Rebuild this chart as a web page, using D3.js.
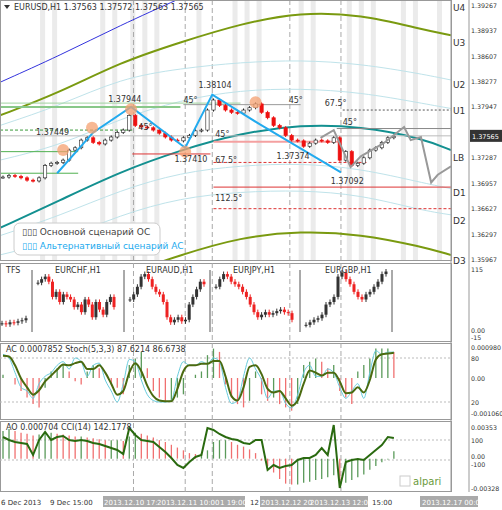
<!DOCTYPE html>
<html><head><meta charset="utf-8">
<script src="https://cdn.jsdelivr.net/npm/d3@7"></script>
<style>body{margin:0;background:#fff}text{font-family:"DejaVu Sans",sans-serif;font-size:8px;fill:#333}</style>
</head><body><svg id="c" width="502" height="510"></svg>
<script>
// ---- data ----
const closes=[1.3703,1.3705,1.3704,1.3702,1.3699,1.3698,1.3702,1.3718,1.3721,1.3722,1.3725,1.3738,1.3741,1.3751,1.3754,1.3748,1.3746,1.3751,1.3755,1.3761,1.3764,1.3783,1.3770,1.3768,1.3767,1.3764,1.3760,1.3755,1.3751,1.3750,1.3754,1.3757,1.3763,1.3764,1.3790,1.3803,1.3796,1.3790,1.3787,1.3786,1.3790,1.3793,1.3798,1.3787,1.3780,1.3770,1.3767,1.3757,1.3751,1.3750,1.3743,1.3747,1.3751,1.3750,1.3748,1.3754,1.3725,1.3736,1.3718,1.3721,1.3728,1.3738,1.3741,1.3748,1.3754,1.3756];
const priceTicks=[1.39267,1.38937,1.38607,1.38277,1.37947,1.37287,1.36957,1.36627,1.36297,1.35967];
const levelNames=["U4","U3","U2","U1","LB","D1","D2","D3"];
const levelPrices=[1.3922,1.3877,1.3822,1.3789,1.3728,1.3682,1.3646,1.3594];
const knotBars=[0,10,20,30,40,50,60,70,75];
const oliveTop=[1.3783,1.3813,1.3852,1.3878,1.3902,1.3917,1.3914,1.3895,1.3887];
const blueLine=[1.3826,1.3861,1.3900,1.3935];
const cyan1=[1.3770,1.3796,1.3831,1.3844,1.3852,1.3855,1.3850,1.3837,1.3829];
const cyan2=[1.3725,1.3744,1.3779,1.3803,1.3816,1.3818,1.3813,1.3799,1.3792];
const cyan3=[1.3627,1.3653,1.3686,1.3709,1.3718,1.3721,1.3714,1.3696,1.3688];
const cyan4=[1.3602,1.3621,1.3654,1.3676,1.3684,1.3686,1.3680,1.3660,1.3654];
const tealLB=[1.3637,1.3673,1.3710,1.3738,1.3760,1.3771,1.3769,1.3754,1.3738];
const oliveBot=[1.3504,1.3530,1.3575,1.3602,1.3625,1.3633,1.3629,1.3613,1.3602];
const zigBars=[9.5,15.5,21.8,30.8,35.3,43.3,56.7];
const zigPrices=[1.3708,1.3761,1.3794,1.3741,1.3810,1.3771,1.3709];
const scenBars=[53.3,55.5,58.3,60,63.8,67.2,68.3,70,71.7,72.8,75];
const scenPrices=[1.3754,1.3764,1.3716,1.3730,1.3747,1.3768,1.3751,1.3755,1.3696,1.3706,1.3717];
const pivotBars=[10.5,15.3,21.8,30.8,42.5];
const pivotPrices=[1.3738,1.3767,1.3791,1.3736,1.3800];
const pivotLabels=[["1.37449",6,1.3757],["1.37944",18,1.3800],["1.38104",33,1.3818],["1.37410",29,1.3722],["1.37374",46,1.3727],["1.37092",55,1.3694]];
const stochK=[85,80,60,40,35,25,45,55,60,70,75,65,80,75,55,70,73,50,35,20,45,78,75,50,30,22,20,20,22,55,75,70,70,75,72,80,75,40,18,22,55,80,65,50,25,35,35,18,12,30,60,70,55,55,65,60,40,25,35,45,25,60,90,85,88,88];
const stochD=[83,82,70,52,40,30,36,48,56,64,71,70,73,75,65,65,70,60,45,30,35,60,73,62,42,28,22,21,21,38,62,70,70,72,72,76,76,55,28,22,40,68,70,58,38,33,35,25,15,22,45,63,60,56,60,60,48,32,33,40,33,50,78,85,86,87];
const acVals=[1,0,-2,-4,-6,-8,-9,-3,2,3,4,2,-1,-2,2,4,3,0,-2,-3,-5,4,6,8,3,-4,-6,-7,-7,-6,-5,0,1,2,7,9,8,-2,-6,-8,-9,-7,2,-5,-7,-6,-8,-9,-10,-8,4,5,6,5,3,4,-4,-6,-8,2,4,6,9,9,9,8];
const aoVals=[30,32,30,28,27,25,26,27,28,27,26,25,24,24,23,22,21,20,20,20,19,24,28,27,25,23,20,18,15,12,9,6,5,6,9,18,20,20,18,15,13,10,6,-2,-8,-15,-22,-27,-28,-28,-26,-25,-23,-22,-20,-18,-28,-26,-23,-20,-17,-12,-8,-4,-1,8];
const cciVals=[115,100,90,85,80,25,100,140,100,115,120,100,95,100,95,85,80,70,60,50,30,160,125,100,95,90,65,40,10,-25,-40,-10,15,25,160,150,130,115,105,100,85,80,100,100,-50,-25,-40,-30,-25,0,10,10,25,60,25,175,-140,-10,0,5,0,25,50,75,115,110];
const tfsSegs=[{name:"",bars:[0,13],v:[8,6,10,9,12,14,18]},{name:"EURCHF,H1",bars:[18,57],v:[88,95,100,90,60,70,50,65,60,55,40,45,30,55,45,20,50,35,25,50,60,40]},{name:"EURAUD,H1",bars:[64,102],v:[55,65,80,100,105,95,80,70,65,50,20,10,15,20,12,15,45,60,75,90,85]},{name:"EURJPY,H1",bars:[107,146],v:[80,95,105,100,90,85,80,70,60,45,30,20,25,30,25,28,32,35,30,28,15]},{name:"EURGBP,H1",bars:[152,193],v:[5,10,15,18,25,45,50,60,100,108,95,85,70,60,55,65,70,80,90,105,110]}];
const stripes=[7,9,17,19,22,24,26,33,39,41,43,50,52,58,60,62,67,69,73];
const vlines=[22.2,30.8,35.3,48.2,56.7];
const dateBoxes=[[103,155],[155,245],[260,368],[420,478]];
const dates=[["6 Dec 2013",1,0],["9 Dec 15:00",50,0],["2013.12.10 17:",104,1],["2013.12.11 10:00",157,1],["1 19:00",220,1],["12",250,0],["2013.12.12 20",261,1],["2013.12.13 12:00",310,1],["15:00",372,0],["2013.12.17 00:00",422,1]];

// ---- drawing ----
const svg=d3.select("#c");
const W=451;
const x=d3.scaleLinear().domain([0,75]).range([0,W]);
const y=d3.scaleLinear().domain([1.35967,1.39267]).range([259,4.7]);
svg.append("rect").attr("x",0).attr("y",0).attr("width",502).attr("height",510).attr("fill","#fff");
const main=svg.append("g");
main.append("clipPath").attr("id","mc").append("rect").attr("width",W).attr("height",260);
const g=main.append("g").attr("clip-path","url(#mc)");
stripes.forEach(s=>g.append("rect").attr("x",x(s)-2).attr("y",0).attr("width",x(1)-1).attr("height",260).attr("fill","#ebebeb"));
vlines.forEach(v=>g.append("line").attr("x1",x(v)).attr("x2",x(v)).attr("y1",0).attr("y2",260).attr("stroke","#aaa").attr("stroke-dasharray","5,3"));
const ln=(bars)=>d3.line().x((d,i)=>x(bars[i])).y(d=>y(d)).curve(d3.curveBasis);
[[cyan1,"#bfe3ea",1],[cyan2,"#bfe3ea",1],[cyan3,"#bfe3ea",1],[cyan4,"#bfe3ea",1],[oliveTop,"#7a9a10",2],[oliveBot,"#7a9a10",2],[tealLB,"#139090",2]].forEach(([d,c,w])=>g.append("path").attr("d",ln(knotBars)(d)).attr("fill","none").attr("stroke",c).attr("stroke-width",w));
g.append("path").attr("d",ln(knotBars)(blueLine)).attr("fill","none").attr("stroke","#3333dd");
const hl=(b0,b1,p,c,dash,w)=>g.append("line").attr("x1",x(b0)).attr("x2",x(b1)).attr("y1",y(p)).attr("y2",y(p)).attr("stroke",c).attr("stroke-width",w||1).attr("stroke-dasharray",dash||null);
hl(0,30,1.3794,"#88c888",null,2);hl(0,40,1.3799,"#9fd49f",null,1);
hl(0,13,1.3736,"#50b050");hl(0,13,1.3708,"#50b050");hl(0,22,1.3764,"#3a9a3a","3,2");
hl(30.5,50,1.3797,"#999");hl(22,35,1.3733,"#dd3333");hl(35.5,56.5,1.3749,"#f4a0a0",null,2);
hl(35.5,61,1.3722,"#dd3333","3,2");hl(35.5,75,1.3690,"#dd3333");hl(35.5,75,1.3662,"#dd3333","3,2");
hl(57,75,1.3790,"#555","2,2");hl(56,75,1.3766,"#888");hl(0,75,1.37565,"#bbb");
const cw=x(1)*0.55;
closes.forEach((c,i)=>{const o=i?closes[i-1]:c;const hi=Math.max(o,c)+0.0002,lo=Math.min(o,c)-0.0002;const col=c>=o?"#222":"#ee1111";
g.append("line").attr("x1",x(i+0.5)).attr("x2",x(i+0.5)).attr("y1",y(hi)).attr("y2",y(lo)).attr("stroke",col);
g.append("rect").attr("x",x(i+0.5)-cw/2).attr("width",cw).attr("y",y(Math.max(o,c))).attr("height",Math.max(1,y(Math.min(o,c))-y(Math.max(o,c)))).attr("fill",c>=o?"#fff":"#ee1111").attr("stroke",col).attr("stroke-width",0.6);});
g.append("path").attr("d",d3.line().x((d,i)=>x(scenBars[i])).y(d=>y(d))(scenPrices)).attr("fill","none").attr("stroke","#999").attr("stroke-width",2);
g.append("path").attr("d",d3.line().x((d,i)=>x(zigBars[i])).y(d=>y(d))(zigPrices)).attr("fill","none").attr("stroke","#22aaee").attr("stroke-width",2);
pivotBars.forEach((b,i)=>g.append("circle").attr("cx",x(b)).attr("cy",y(pivotPrices[i])).attr("r",6).attr("fill","#f4a070").attr("opacity",0.75));
pivotLabels.forEach(([t,b,p])=>g.append("text").attr("x",x(b)).attr("y",y(p)).text(t));
[["45°",23,1.3762],["45°",30.5,1.3797],["45°",48,1.3797],["45°",57,1.3768],["45°",35.8,1.3753],["67.5°",35.8,1.3719],["67.5°",54,1.3793],["112.5°",35.8,1.3669]].forEach(([t,b,p])=>g.append("text").attr("x",x(b)).attr("y",y(p)-2).text(t));
g.append("rect").attr("x",14).attr("y",223).attr("width",146).attr("height",32).attr("rx",6).attr("fill","#fff").attr("stroke","#ccc");
g.append("text").attr("x",22).attr("y",235).style("font-size","9px").style("fill","#444").text("▯▯▯ Основной сценарий ОС");
g.append("text").attr("x",22).attr("y",249).style("font-size","9px").style("fill","#22aaee").text("▯▯▯ Альтернативный сценарий АС");
g.append("text").attr("x",14).attr("y",10).text("EURUSD,H1  1.37563 1.37572 1.37563 1.37565");
g.append("path").attr("d","M4,5 L10,5 L7,9Z").attr("fill","#333");
svg.append("line").attr("x1",W).attr("x2",W).attr("y1",0).attr("y2",492).attr("stroke","#999");
svg.append("line").attr("x1",469).attr("x2",469).attr("y1",0).attr("y2",492).attr("stroke","#999");
const ax=(t,yy)=>svg.append("text").attr("x",471).attr("y",yy+3).style("font-size","6.3px").text(t);
priceTicks.forEach(p=>ax(p.toFixed(5),y(p)));
levelNames.forEach((n,i)=>svg.append("text").attr("x",453).attr("y",y(levelPrices[i])+3).style("font-size","9px").text(n));
svg.append("rect").attr("x",470).attr("y",y(1.37565)-6).attr("width",32).attr("height",12).attr("fill","#333");
svg.append("text").attr("x",472).attr("y",y(1.37565)+3).style("font-size","6.5px").style("fill","#fff").text("1.37565");
[[0,261],[263,342],[343,420],[421,492]].forEach(([a,b])=>svg.append("rect").attr("x",0.5).attr("y",a+0.5).attr("width",W).attr("height",b-a-1).attr("fill","none").attr("stroke","#999"));
const ty=d3.scaleLinear().domain([-15,115]).range([335,269]);
const tg=svg.append("g");
vlines.forEach(v=>tg.append("line").attr("x1",x(v)).attr("x2",x(v)).attr("y1",263).attr("y2",492).attr("stroke","#aaa").attr("stroke-dasharray","5,3"));
tfsSegs.forEach(s=>{const bx=d3.scaleLinear().domain([0,s.v.length-1]).range([2+s.bars[0]*2,s.bars[1]*2]);
s.v.forEach((c,i)=>{const o=i?s.v[i-1]:c;const col=c>=o?"#333":"#ee2222";tg.append("line").attr("x1",bx(i)).attr("x2",bx(i)).attr("y1",ty(Math.max(o,c)+5)).attr("y2",ty(Math.min(o,c)-5)).attr("stroke",col);
tg.append("rect").attr("x",bx(i)-1.5).attr("width",3).attr("y",ty(Math.max(o,c))).attr("height",Math.max(1,ty(Math.min(o,c))-ty(Math.max(o,c)))).attr("fill",col);});
if(s.name){tg.append("text").attr("x",s.bars[0]+s.bars[1]-20).attr("y",273).text(s.name);
tg.append("line").attr("x1",s.bars[0]*2-4).attr("x2",s.bars[0]*2-4).attr("y1",270).attr("y2",332).attr("stroke","#555");}});
tg.append("line").attr("x1",392).attr("x2",392).attr("y1",270).attr("y2",332).attr("stroke","#555");
tg.append("text").attr("x",6).attr("y",273).text("TFS");
ax("115",269);ax("0.00",330);ax("-15",337);
const sy=d3.scaleLinear().domain([20,80]).range([402,358]);
const ay=d3.scaleLinear().domain([0,9.8]).range([378,346]);
[80,20].forEach(v=>svg.append("line").attr("x1",0).attr("x2",W).attr("y1",sy(v)).attr("y2",sy(v)).attr("stroke","#bbb").attr("stroke-dasharray","2,2"));
acVals.forEach((v,i)=>{const up=i===0||v>=acVals[i-1];svg.append("line").attr("x1",x(i+0.5)).attr("x2",x(i+0.5)).attr("y1",ay(0)).attr("y2",ay(v)).attr("stroke",up?"#5a9a5a":"#f07070").attr("stroke-width",1.3);});
const sl=d3.line().x((d,i)=>x(i+0.5)).y(d=>sy(d)).curve(d3.curveMonotoneX);
svg.append("path").attr("d",sl(stochK)).attr("fill","none").attr("stroke","#66ccdd");
svg.append("path").attr("d",sl(stochD)).attr("fill","none").attr("stroke","#4a6a10").attr("stroke-width",2);
svg.append("text").attr("x",6).attr("y",352).text("AC 0.0007852  Stoch(5,3,3) 87.6214 86.6738");
ax("0.000980",347);ax("80",358);ax("0.00",378);ax("20",402);ax("-0.001060",413);
const oy=d3.scaleLinear().domain([-32.8,35.3]).range([489,426]);
const cy=d3.scaleLinear().domain([0,100]).range([460,440]);
[440,460].forEach(v=>svg.append("line").attr("x1",0).attr("x2",W).attr("y1",v).attr("y2",v).attr("stroke","#bbb").attr("stroke-dasharray","2,2"));
aoVals.forEach((v,i)=>{const up=i===0||v>=aoVals[i-1];svg.append("line").attr("x1",x(i+0.5)).attr("x2",x(i+0.5)).attr("y1",oy(0)).attr("y2",oy(v)).attr("stroke",up?"#5a9a5a":"#f07070").attr("stroke-width",1.3);});
svg.append("path").attr("d",d3.line().x((d,i)=>x(i+0.5)).y(d=>cy(d))(cciVals)).attr("fill","none").attr("stroke","#2a6a10").attr("stroke-width",2);
svg.append("text").attr("x",6).attr("y",430).text("AO 0.000704  CCI(14) 142.1778");
ax("0.00353",427);ax("100",440);ax("0.00",456);ax("-100",464);ax("-0.00328",488);
svg.append("rect").attr("x",400).attr("y",476).attr("width",10).attr("height",10).attr("fill","#fff").attr("stroke","#ccc");
svg.append("text").attr("x",413).attr("y",485).style("font-size","10px").style("fill","#6a9a3a").text("alpari");
dateBoxes.forEach(([a,b])=>svg.append("rect").attr("x",a).attr("y",496).attr("width",b-a).attr("height",11).attr("fill","#aaa"));
dates.forEach(([t,xx,box])=>svg.append("text").attr("x",xx).attr("y",505).style("font-size","7px").style("fill",box?"#fff":"#333").text(t));
</script></body></html>
